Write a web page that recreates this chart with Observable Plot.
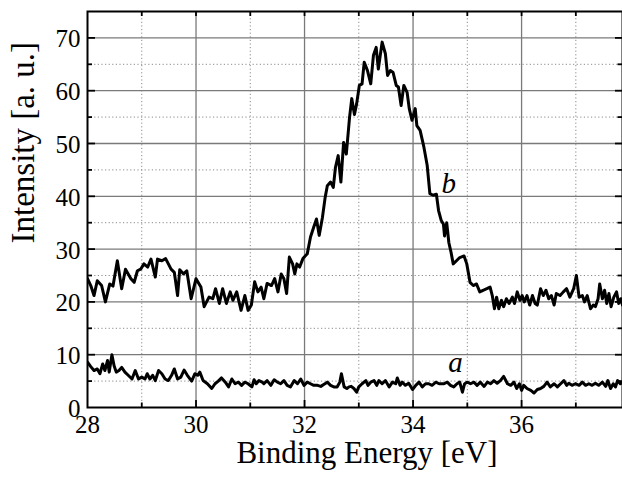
<!DOCTYPE html>
<html>
<head>
<meta charset="utf-8">
<script src="https://cdn.jsdelivr.net/npm/d3@7"></script>
<script src="https://cdn.jsdelivr.net/npm/@observablehq/plot@0.6"></script>
<style>
  html, body { margin: 0; padding: 0; background: #fff; }
  svg text { font-family: "Liberation Serif", "Times New Roman", serif; }
</style>
</head>
<body>
<script>
// Curve b (upper spectrum)
const energyB = [28.00,28.06,28.12,28.18,28.26,28.33,28.41,28.47,28.55,28.63,28.70,28.80,28.86,28.92,28.98,29.04,29.11,29.17,29.25,29.29,29.37,29.44,29.54,29.60,29.66,29.70,29.77,29.83,29.91,30.00,30.09,30.15,30.24,30.31,30.36,30.43,30.49,30.56,30.63,30.68,30.75,30.83,30.90,30.96,31.02,31.08,31.14,31.20,31.25,31.31,31.39,31.45,31.51,31.57,31.62,31.67,31.72,31.78,31.82,31.86,31.91,31.97,32.05,32.11,32.17,32.22,32.27,32.33,32.38,32.42,32.48,32.53,32.57,32.62,32.67,32.72,32.77,32.83,32.87,32.92,32.96,33.01,33.06,33.10,33.16,33.22,33.27,33.32,33.36,33.43,33.49,33.53,33.58,33.63,33.69,33.73,33.78,33.83,33.89,33.93,33.98,34.04,34.07,34.13,34.20,34.26,34.31,34.37,34.43,34.47,34.52,34.56,34.58,34.62,34.66,34.70,34.74,34.80,34.86,34.94,34.99,35.05,35.11,35.17,35.23,35.29,35.36,35.42,35.46,35.50,35.54,35.58,35.63,35.67,35.72,35.77,35.83,35.87,35.92,35.97,36.01,36.05,36.10,36.15,36.20,36.25,36.29,36.35,36.40,36.45,36.50,36.55,36.60,36.64,36.71,36.77,36.83,36.89,36.96,37.01,37.06,37.12,37.16,37.21,37.27,37.32,37.36,37.41,37.44,37.49,37.53,37.57,37.61,37.65,37.70,37.75,37.79,37.83,37.86];
const intensityB = [24.4,23.1,21.2,24.0,23.1,20.0,23.4,23.0,27.8,22.5,26.2,24.4,23.7,25.9,26.2,27.2,26.6,28.1,24.7,28.1,27.8,28.2,26.2,25.6,21.2,26.1,25.3,25.9,20.6,24.4,22.8,19.1,20.9,20.6,22.5,19.7,22.5,19.7,21.9,20.3,21.9,18.4,21.2,18.4,19.4,23.8,21.9,22.8,20.6,23.5,23.1,24.4,21.9,25.3,24.4,21.6,28.5,27.2,25.3,27.2,26.6,28.2,29.1,32.3,34.2,35.7,32.6,36.0,39.8,42.0,42.7,41.7,45.5,47.7,42.7,50.2,48.0,55.0,58.5,55.5,57.5,61.0,61.3,65.4,63.8,61.3,66.7,68.2,64.1,69.2,67.0,62.9,63.8,63.5,61.0,60.7,57.2,61.0,59.7,56.6,54.4,56.6,53.4,52.5,49.3,45.9,40.5,40.2,40.4,37.3,35.4,34.7,32.5,35.0,31.2,29.4,27.2,27.8,28.4,28.7,27.2,23.7,23.1,23.4,21.9,22.2,22.5,22.8,21.2,18.7,20.9,18.7,20.3,19.1,20.6,19.7,20.9,19.7,21.9,20.3,21.2,20.0,21.2,19.4,21.2,19.7,19.4,22.5,21.2,22.2,20.6,21.2,19.4,21.6,21.2,21.9,22.5,20.9,22.5,25.0,20.9,21.2,20.0,21.2,18.7,19.4,19.1,20.6,23.4,20.6,22.2,19.7,21.6,19.1,20.9,21.9,19.7,20.6,19.4];

// Curve a (lower spectrum)
const energyA = [28.00,28.06,28.12,28.18,28.23,28.28,28.32,28.37,28.40,28.45,28.49,28.53,28.58,28.63,28.69,28.75,28.82,28.88,28.94,29.00,29.06,29.10,29.15,29.20,29.25,29.31,29.37,29.43,29.49,29.55,29.60,29.66,29.72,29.78,29.84,29.92,29.98,30.03,30.07,30.13,30.21,30.29,30.35,30.41,30.47,30.54,30.60,30.66,30.72,30.78,30.84,30.90,30.96,31.03,31.07,31.11,31.16,31.22,31.25,31.31,31.38,31.44,31.50,31.56,31.62,31.68,31.74,31.81,31.87,31.93,31.99,32.05,32.11,32.17,32.24,32.30,32.36,32.42,32.48,32.54,32.60,32.65,32.68,32.73,32.78,32.82,32.86,32.91,32.96,33.00,33.06,33.13,33.17,33.22,33.28,33.33,33.37,33.43,33.49,33.56,33.62,33.68,33.71,33.76,33.80,33.86,33.92,33.99,34.05,34.11,34.17,34.23,34.29,34.35,34.42,34.48,34.57,34.63,34.69,34.75,34.81,34.86,34.91,34.95,35.00,35.06,35.12,35.18,35.24,35.31,35.37,35.43,35.49,35.55,35.61,35.67,35.74,35.80,35.86,35.91,35.96,36.00,36.04,36.10,36.17,36.23,36.29,36.35,36.41,36.47,36.53,36.60,36.66,36.72,36.78,36.83,36.87,36.93,36.99,37.06,37.12,37.18,37.24,37.30,37.36,37.42,37.49,37.55,37.59,37.64,37.69,37.73,37.77,37.82,37.86];
const intensityA = [8.6,7.75,7.0,7.3,6.4,8.25,7.0,8.9,6.7,10.0,7.9,6.7,7.0,7.6,6.7,6.1,5.4,7.0,5.4,5.75,5.4,6.4,5.4,6.1,5.1,7.0,6.4,5.4,5.1,6.1,7.3,5.4,5.75,7.1,6.1,5.0,6.4,6.1,6.7,5.1,4.5,3.6,4.5,5.0,5.6,4.8,3.9,5.4,4.5,4.8,4.2,4.8,4.5,3.9,5.25,4.5,5.1,4.8,4.5,5.1,4.2,5.25,4.8,4.5,5.1,4.2,3.9,5.1,4.5,5.4,4.2,4.8,4.5,4.2,4.2,4.0,4.4,4.8,4.2,3.9,3.9,4.8,6.4,3.9,3.6,3.9,4.0,3.6,2.9,3.9,4.5,5.1,4.2,4.8,5.1,4.2,5.1,4.5,5.1,3.9,4.8,4.5,5.6,4.2,4.8,4.2,4.6,3.4,4.2,4.8,3.9,4.5,4.5,4.2,4.8,4.5,4.5,4.8,4.2,3.9,4.5,4.8,2.9,4.5,4.8,4.5,4.8,4.2,4.8,4.0,4.8,4.5,5.1,4.6,5.1,5.9,4.5,4.2,4.8,3.6,4.5,3.25,4.2,3.6,3.25,2.75,3.4,3.6,4.0,4.8,3.9,4.5,3.9,4.5,5.1,4.2,4.6,4.2,4.5,4.2,4.8,4.2,4.5,4.2,4.6,4.2,4.8,4.0,5.1,3.6,4.5,3.9,5.1,4.5,4.8];

// Axis ticks / grid
const xTickLabels = [28, 30, 32, 34, 36];
const xMajorGrid = [30, 32, 34, 36];
const xMinorGrid = [29, 31, 33, 35, 37];
const xAllTicks = [29, 30, 31, 32, 33, 34, 35, 36, 37];
const yTickLabels = [0, 10, 20, 30, 40, 50, 60, 70];
const yMajorGrid = [10, 20, 30, 40, 50, 60, 70];
const yMinorGrid = [5, 15, 25, 35, 45, 55, 65];

const curveLabels = [
  {text: "b", x: 34.66, y: 42.4},
  {text: "a", x: 34.78, y: 8.4}
];
const xTitle = "Binding Energy [eV]";
const yTitle = "Intensity [a. u.]";

const dataB = energyB.map((e, i) => ({e, v: intensityB[i]}));
const dataA = energyA.map((e, i) => ({e, v: intensityA[i]}));

const SERIF = "Liberation Serif";
const W = 622, H = 477, ML = 87, MR = 0, MT = 11, MB = 70;
const plotW = W - ML - MR, plotH = H - MT - MB;
const isMajor = d => d % 2 === 0;

const chart = Plot.plot({
  width: W, height: H,
  marginLeft: ML, marginRight: MR, marginTop: MT, marginBottom: MB,
  x: {domain: [28, 37.86], axis: null},
  y: {domain: [0, 75], axis: null},
  style: {fontFamily: SERIF, fontSize: "24px", color: "black", background: "white"},
  marks: [
    Plot.ruleX(xMinorGrid, {stroke: "#8a8a8a", strokeWidth: 1, strokeDasharray: "1.2,2.4"}),
    Plot.ruleY(yMinorGrid, {stroke: "#8a8a8a", strokeWidth: 1, strokeDasharray: "1.2,2.4"}),
    Plot.ruleX(xMajorGrid, {stroke: "#7a7a7a", strokeWidth: 1.3}),
    Plot.ruleY(yMajorGrid, {stroke: "#7a7a7a", strokeWidth: 1.3}),
    // inward ticks bottom/top
    Plot.tickX(xAllTicks.filter(isMajor), {x: d => d, insetTop: plotH - 7, stroke: "black", strokeWidth: 1.8}),
    Plot.tickX(xAllTicks.filter(d => !isMajor(d)), {x: d => d, insetTop: plotH - 4.5, stroke: "black", strokeWidth: 1.8}),
    Plot.tickX(xAllTicks, {x: d => d, insetBottom: plotH - 5, stroke: "black", strokeWidth: 1.8}),
    // inward ticks left/right
    Plot.tickY(yMajorGrid, {y: d => d, insetRight: plotW - 8, stroke: "black", strokeWidth: 1.8}),
    Plot.tickY(yMinorGrid, {y: d => d, insetRight: plotW - 5, stroke: "black", strokeWidth: 1.8}),
    Plot.tickY(yMajorGrid, {y: d => d, insetLeft: plotW - 7, stroke: "black", strokeWidth: 1.8}),
    Plot.tickY(yMinorGrid, {y: d => d, insetLeft: plotW - 4.5, stroke: "black", strokeWidth: 1.8}),
    Plot.line(dataB, {x: "e", y: "v", stroke: "black", strokeWidth: 3, strokeLinejoin: "round", clip: true}),
    Plot.line(dataA, {x: "e", y: "v", stroke: "black", strokeWidth: 3, strokeLinejoin: "round", clip: true}),
    Plot.frame({stroke: "black", strokeWidth: 2}),
    // tick labels
    Plot.text(xTickLabels, {x: d => d, frameAnchor: "bottom", lineAnchor: "top", dy: 8, text: d => String(d), fontFamily: SERIF, fontSize: 25, fill: "black"}),
    Plot.text(yTickLabels, {y: d => d, frameAnchor: "left", textAnchor: "end", dx: -7, dy: 1.5, text: d => String(d), fontFamily: SERIF, fontSize: 25, fill: "black"}),
    Plot.text(curveLabels, {x: "x", y: "y", text: "text", fontFamily: SERIF, fontStyle: "italic", fontSize: 29, fill: "black"}),
    Plot.text([xTitle], {frameAnchor: "bottom", dx: 12, dy: 55, fontFamily: SERIF, fontSize: 31, fill: "black"}),
    Plot.text([yTitle], {frameAnchor: "left", rotate: -90, dx: -64, dy: 34, fontFamily: SERIF, fontSize: 33, fill: "black"})
  ]
});
document.body.appendChild(chart);
</script>
</body>
</html>
